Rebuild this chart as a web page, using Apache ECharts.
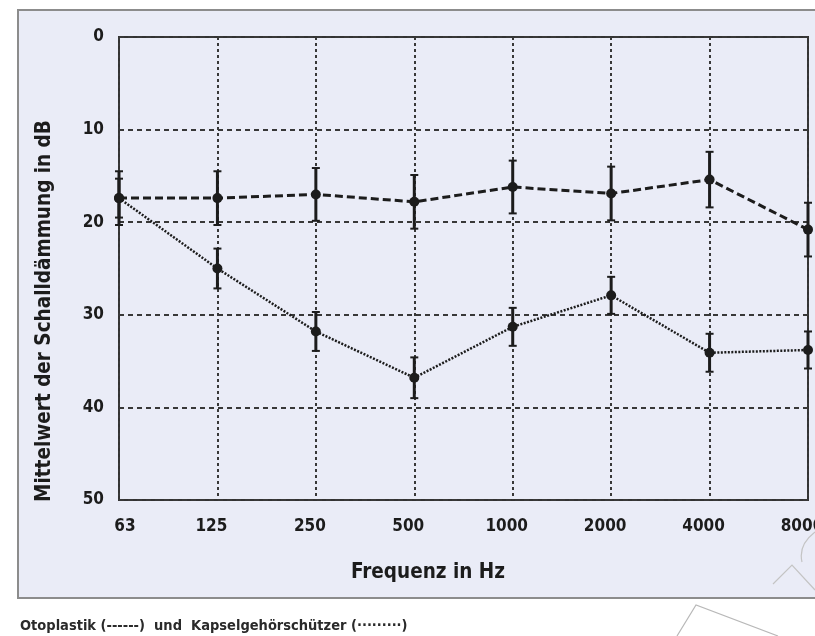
<!DOCTYPE html>
<html>
<head>
<meta charset="utf-8">
<script src="https://cdn.jsdelivr.net/npm/echarts@6/dist/echarts.min.js"></script>
<style>
  html, body { margin: 0; padding: 0; background: #ffffff; }
  #chart { width: 815px; height: 636px; }
</style>
</head>
<body>
<div id="chart"></div>
<script>
// Octave-band centre frequencies (Hz)
const frequencies = ['63', '125', '250', '500', '1000', '2000', '4000', '8000'];

// Otoplastik: mean attenuation and standard deviation (dB)
const otoplastikMean = [17.4, 17.4, 17.0, 17.8, 16.2, 16.9, 15.4, 20.8];
const otoplastikSd   = [2.9, 2.9, 2.85, 2.9, 2.85, 2.9, 3.0, 2.9];

// Kapselgehörschützer: mean attenuation and standard deviation (dB)
const kapselMean = [17.4, 25.0, 31.8, 36.8, 31.3, 27.9, 34.1, 33.8];
const kapselSd   = [2.1, 2.15, 2.1, 2.2, 2.05, 2.0, 2.05, 2.0];

// Attenuation axis ticks (dB)
const dbTicks = [0, 10, 20, 30, 40, 50];

const INK = '#1c1c1c';
const FONT = '"DejaVu Sans Condensed", "DejaVu Sans", sans-serif';

function errorData(mean, sd) {
  return mean.map((m, i) => [i, m - sd[i], m + sd[i]]);
}

function renderErrorBar(params, api) {
  const top = api.coord([api.value(0), api.value(1)]);
  const bottom = api.coord([api.value(0), api.value(2)]);
  const half = 4;
  const capStyle = { stroke: INK, lineWidth: 2 };
  return {
    type: 'group',
    children: [
      { type: 'line', shape: { x1: top[0], y1: top[1], x2: bottom[0], y2: bottom[1] },
        style: { stroke: INK, lineWidth: 3 } },
      { type: 'line', shape: { x1: top[0] - half, y1: top[1], x2: top[0] + half, y2: top[1] },
        style: capStyle },
      { type: 'line', shape: { x1: bottom[0] - half, y1: bottom[1], x2: bottom[0] + half, y2: bottom[1] },
        style: capStyle }
    ]
  };
}

const chart = echarts.init(document.getElementById('chart'), null, { renderer: 'canvas' });

chart.setOption({
  animation: false,
  backgroundColor: '#ffffff',
  textStyle: { fontFamily: FONT },
  graphic: [
    // framed panel behind the plot
    { type: 'rect', z: -10, silent: true,
      shape: { x: 18, y: 10, width: 830, height: 588 },
      style: { fill: '#eaecf7', stroke: '#8c8c8c', lineWidth: 2 } },
    // faint outline mark in the lower right corner
    { type: 'polyline', z: -5, silent: true,
      shape: { points: [[677, 636], [696, 605], [778, 636]] },
      style: { stroke: '#b8b8b8', lineWidth: 1.2, fill: null } },
    { type: 'polyline', z: 50, silent: true,
      shape: { points: [[773, 584], [792, 565], [815, 590]] },
      style: { stroke: '#c4c4c4', lineWidth: 1.2, fill: null } },
    { type: 'bezierCurve', z: 50, silent: true,
      shape: { x1: 802, y1: 562, x2: 815, y2: 532, cpx1: 798, cpy1: 545 },
      style: { stroke: '#c4c4c4', lineWidth: 1.2, fill: null } },
    // axis titles
    { type: 'text', x: 428, y: 573, z: 50,
      style: { text: 'Frequenz in Hz', font: 'bold 20.5px ' + FONT, fill: INK,
               textAlign: 'center', textVerticalAlign: 'middle' } },
    { type: 'text', x: 45, y: 311, rotation: Math.PI / 2, z: 50,
      style: { text: 'Mittelwert der Schalldämmung in dB', font: 'bold 20.5px ' + FONT, fill: INK,
               textAlign: 'center', textVerticalAlign: 'middle' } },
    // caption
    { type: 'text', x: 20, y: 626, z: 50,
      style: { text: 'Otoplastik (------)  und  Kapselgehörschützer (·········)',
               font: 'bold 14.5px ' + FONT, fill: '#2a2a2a',
               textAlign: 'left', textVerticalAlign: 'middle' } }
  ],
  grid: {
    left: 119, top: 37, right: 7, bottom: 136,
    containLabel: false,
    outerBoundsMode: 'none',
    show: true, borderColor: '#333333', borderWidth: 2, backgroundColor: 'transparent'
  },
  xAxis: {
    type: 'category',
    data: frequencies,
    boundaryGap: false,
    axisLine: { show: false },
    axisTick: { show: false },
    axisLabel: {
      interval: 0,
      hideOverlap: false,
      margin: 18, color: INK, fontFamily: FONT, fontWeight: 'bold', fontSize: 17,
      padding: [0, 12, 0, 0],
      formatter: (v, i) => i === 0 ? '{first|' + v + '}' : v,
      rich: { first: { padding: [0, 0, 0, 24], fontFamily: FONT, fontWeight: 'bold', fontSize: 17, color: INK } }
    },
    splitLine: { show: true, interval: 0, lineStyle: { color: '#383838', width: 2, type: [3, 3] } }
  },
  yAxis: {
    type: 'value',
    inverse: true,
    min: dbTicks[0],
    max: dbTicks[dbTicks.length - 1],
    interval: dbTicks[1] - dbTicks[0],
    axisLine: { show: false },
    axisTick: { show: false },
    axisLabel: { margin: 15, color: INK, fontFamily: FONT, fontWeight: 'bold', fontSize: 17 },
    splitLine: { show: true, lineStyle: { color: '#383838', width: 2, type: [5, 4] } }
  },
  series: [
    {
      name: 'Otoplastik',
      type: 'line',
      data: otoplastikMean,
      symbol: 'circle', symbolSize: 10,
      itemStyle: { color: INK },
      lineStyle: { color: INK, width: 3, type: [8, 4] },
      z: 5
    },
    {
      name: 'Kapselgehörschützer',
      type: 'line',
      data: kapselMean,
      symbol: 'circle', symbolSize: 10,
      itemStyle: { color: INK },
      lineStyle: { color: INK, width: 2.5, type: [2, 1.5] },
      z: 5
    },
    {
      name: 'Otoplastik SD',
      type: 'custom',
      renderItem: renderErrorBar,
      data: errorData(otoplastikMean, otoplastikSd),
      encode: { x: 0, y: [1, 2] },
      z: 4
    },
    {
      name: 'Kapselgehörschützer SD',
      type: 'custom',
      renderItem: renderErrorBar,
      data: errorData(kapselMean, kapselSd),
      encode: { x: 0, y: [1, 2] },
      z: 4
    }
  ]
});
</script>
</body>
</html>
